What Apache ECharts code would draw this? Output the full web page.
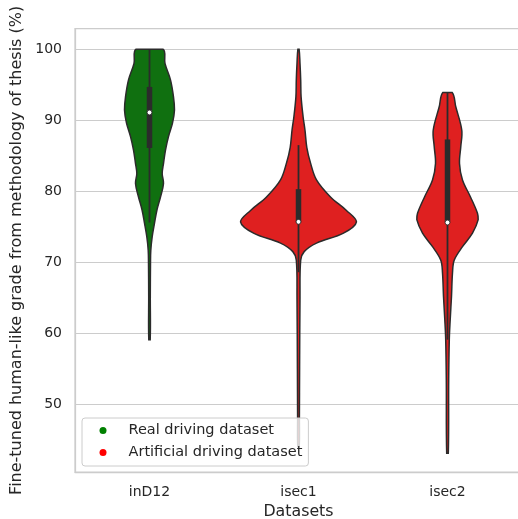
<!DOCTYPE html>
<html><head><meta charset="utf-8">
<script src="https://cdn.jsdelivr.net/npm/echarts@6/dist/echarts.min.js"></script>
<style>html,body{margin:0;padding:0;background:#fff}#c{width:518px;height:519px}</style>
</head><body><div id="c"></div>
<script>
// ---- data ----
const categories = ['inD12', 'isec1', 'isec2'];
const groupNames = ['Real driving dataset', 'Artificial driving dataset'];

// kernel density outline: grade (%) and relative density
const inD12Grades  = [100, 98.0, 95.7, 93.3, 91.45, 89.6, 87.7, 85.8, 83.9, 82.5, 81.1, 79.2, 77.4, 75.5, 73.6, 71.7, 69.9, 65.2, 59.1];
const inD12Density = [13.5, 15.5, 21, 24, 25, 23, 19, 16, 14, 12.7, 14, 11, 7.5, 5, 2.7, 1.3, 1.0, 0.8, 0.7];

const isec1Grades  = [100, 98.0, 95.7, 93.3, 90.5, 88.6, 86.2, 84.0, 81.6, 79.2, 77.3, 75.7, 74.1, 72.7, 71.5, 70.3, 65.1, 55.0, 48.2, 44.0];
const isec1Density = [0.6, 1.5, 2.2, 2.6, 4.6, 6.5, 8.3, 12, 18, 32, 48, 58, 45, 18, 5.7, 2.2, 1.5, 1.1, 0.9, 0.7];

const isec2Grades  = [93.9, 91.9, 88.6, 86.3, 83.9, 81.6, 79.2, 76.9, 76.0, 74.1, 72.2, 70.3, 68.5, 65.2, 61.9, 59.1, 53.4, 43.1];
const isec2Density = [4.7, 8.3, 14.3, 13.3, 12, 15, 23, 30, 30.7, 25, 15, 6.7, 5, 4, 2.7, 1.8, 1.2, 0.8];

// inner box: [lower whisker, Q1, median, Q3, upper whisker]
const inD12Box = [75.6, 86.1, 91.1, 94.7, 100];
const isec1Box = [68.6, 75.6, 75.7, 80.3, 86.5];
const isec2Box = [59.1, 75.6, 75.6, 87.3, 93.9];

const yTicks = [50, 60, 70, 80, 90, 100];

// ---- build ----
const profiles = [
  {g: inD12Grades, d: inD12Density, box: inD12Box},
  {g: isec1Grades, d: isec1Density, box: isec1Box},
  {g: isec2Grades, d: isec2Density, box: isec2Box}
];
const DMAX = Math.max(...inD12Density, ...isec1Density, ...isec2Density);
const MAXHALF = 0.389;
const INK = '#2b2b2b';

function renderItem(params, api) {
  const ci = api.value(0);
  const prof = profiles[ci];
  const band = api.size([1, 0])[0];
  const right = [], left = [];
  let minX = Infinity, maxX = -Infinity, minY = Infinity, maxY = -Infinity;
  for (let i = 0; i < prof.g.length; i++) {
    const p = api.coord([ci, prof.g[i]]);
    const hw = prof.d[i] / DMAX * MAXHALF * band;
    right.push([p[0] + hw, p[1]]);
    left.push([p[0] - hw, p[1]]);
    minX = Math.min(minX, p[0] - hw); maxX = Math.max(maxX, p[0] + hw);
    minY = Math.min(minY, p[1]); maxY = Math.max(maxY, p[1]);
  }
  const pts = right.concat(left.reverse());
  const b = prof.box;
  const wl = api.coord([ci, b[0]]), q1 = api.coord([ci, b[1]]), md = api.coord([ci, b[2]]),
        q3 = api.coord([ci, b[3]]), wh = api.coord([ci, b[4]]);
  return {
    type: 'group',
    children: [
      {type: 'polygon', shape: {points: pts, smooth: 0.35, smoothConstraint: [[minX, minY], [maxX, maxY]]},
       style: {fill: api.visual('color'), stroke: INK, lineWidth: 1.5}},
      {type: 'line', shape: {x1: wl[0], y1: wl[1], x2: wh[0], y2: wh[1]},
       style: {stroke: INK, lineWidth: 1.8}},
      {type: 'line', shape: {x1: q1[0], y1: q1[1], x2: q3[0], y2: q3[1]},
       style: {stroke: INK, lineWidth: 5.5, lineCap: 'butt'}},
      {type: 'circle', shape: {cx: md[0], cy: md[1], r: 2.4},
       style: {fill: '#ffffff', stroke: INK, lineWidth: 0.8}}
    ]
  };
}

const font = 'DejaVu Sans';
const chart = echarts.init(document.getElementById('c'), null, {renderer: 'canvas'});
chart.setOption({
  animation: false,
  backgroundColor: '#ffffff',
  textStyle: {fontFamily: font},
  grid: {left: 75, top: 28.7, width: 447, bottom: 47, containLabel: false, outerBoundsMode: 'none',
         show: true, borderColor: '#cccccc', borderWidth: 1.25, backgroundColor: 'transparent'},
  legend: {
    orient: 'vertical', left: 82, top: 418,
    data: [
      {name: groupNames[0], itemStyle: {color: '#008000'}},
      {name: groupNames[1], itemStyle: {color: '#ff0000'}}
    ],
    icon: 'circle', itemWidth: 7, itemHeight: 7, itemGap: 7,
    padding: [5, 6, 6, 17.5],
    backgroundColor: 'rgba(255,255,255,0.8)', borderColor: '#cccccc', borderWidth: 1, borderRadius: 3,
    textStyle: {fontFamily: font, fontSize: 14.5, color: '#262626', lineHeight: 15, padding: [0, 0, 0, 17]},
    selectedMode: false
  },
  xAxis: {
    type: 'category', data: categories,
    axisLine: {show: true, lineStyle: {color: '#cccccc', width: 1.25}},
    axisTick: {show: false},
    splitLine: {show: false},
    axisLabel: {fontFamily: font, fontSize: 14, color: '#262626', margin: 13},
    name: 'Datasets', nameLocation: 'middle', nameGap: 32,
    nameTextStyle: {fontFamily: font, fontSize: 15.8, color: '#262626'}
  },
  yAxis: {
    type: 'value', min: 40.46, max: 102.9,
    axisLine: {show: true, lineStyle: {color: '#cccccc', width: 1.25}},
    axisTick: {show: false, customValues: yTicks},
    axisLabel: {fontFamily: font, fontSize: 14, color: '#262626', margin: 13, customValues: yTicks},
    splitLine: {show: true, lineStyle: {color: '#cccccc', width: 1}},
    name: 'Fine-tuned human-like grade from methodology of thesis (%)',
    nameLocation: 'middle', nameGap: 48,
    nameTextStyle: {fontFamily: font, fontSize: 16, color: '#262626'}
  },
  series: [
    {type: 'custom', name: groupNames[0], renderItem: renderItem, itemStyle: {color: '#107010'},
     data: [[0]], encode: {x: 0}, clip: false, z: 2},
    {type: 'custom', name: groupNames[1], renderItem: renderItem, itemStyle: {color: '#df2020'},
     data: [[1], [2]], encode: {x: 0}, clip: false, z: 2}
  ]
});
</script>
</body></html>
